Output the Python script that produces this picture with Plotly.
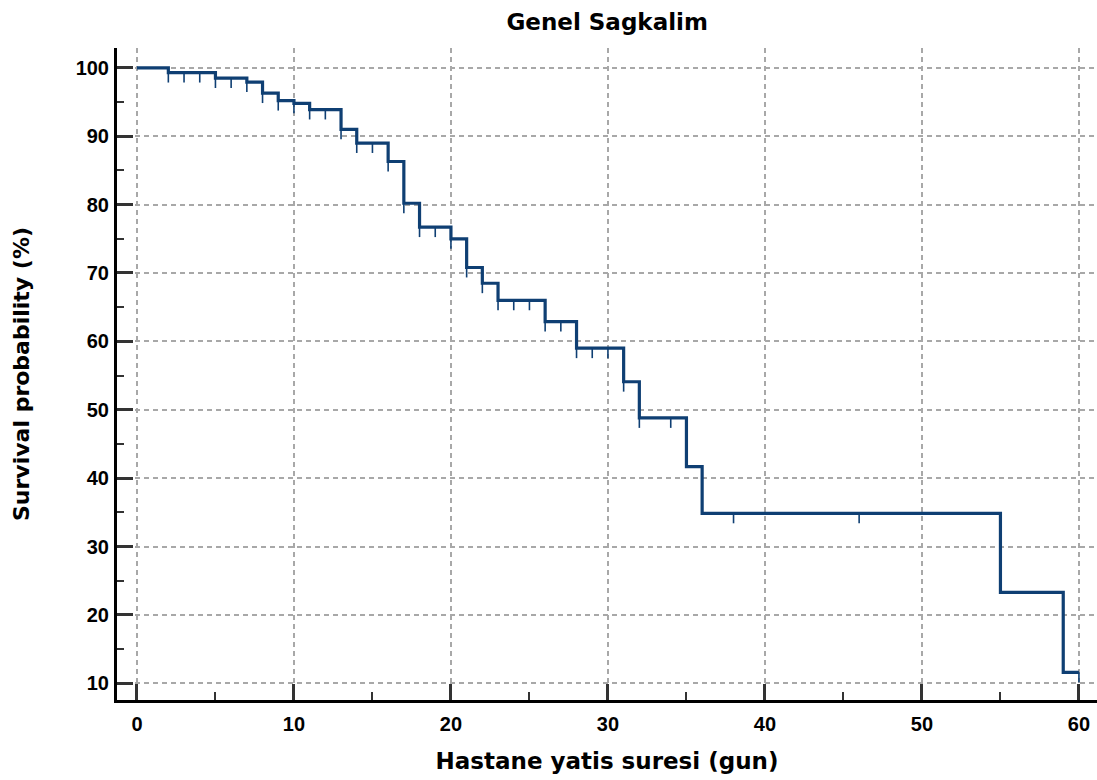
import plotly.graph_objects as go
import numpy as np

# Kaplan-Meier step data (time in days, survival %)
step_times = [0, 2, 5, 7, 8, 9, 10, 11, 13, 14, 16, 17, 18, 20, 21, 22, 23, 26, 28, 31, 32, 35, 36, 55, 59, 60]
step_surv = [100, 99.3, 98.5, 97.9, 96.3, 95.2, 94.8, 93.9, 91.0, 89.0, 86.3, 80.2, 76.7, 75.0, 70.8, 68.5,
             66.0, 62.9, 59.0, 54.1, 48.8, 41.7, 34.85, 23.3, 11.6, 11.6]

# censored observation times
censor_times = [2, 3, 4, 5, 6, 7, 8, 9, 10, 11, 12, 13, 14, 15, 16, 17, 18, 19, 20, 21, 22, 23, 24, 25,
                26, 27, 28, 29, 30, 31, 32, 34, 38, 46, 60]

x_ticks = [0, 10, 20, 30, 40, 50, 60]
y_ticks = [10, 20, 30, 40, 50, 60, 70, 80, 90, 100]

title_text = "Genel Sagkalim"
x_title = "Hastane yatis suresi (gun)"
y_title = "Survival probability (%)"

LINE = "#0f3f73"
FONT = "DejaVu Sans"
TICKFONT = "Liberation Sans"


def surv_at(t):
    idx = np.searchsorted(step_times, t, side="right") - 1
    return step_surv[max(idx, 0)]


cx, cy = [], []
for t in censor_times:
    s = surv_at(t)
    cx += [t, t, None]
    cy += [s, s - 1.45, None]

fig = go.Figure()
fig.add_trace(go.Scatter(x=step_times, y=step_surv, mode="lines", line=dict(color=LINE, width=3.2, shape="hv"),
                         hoverinfo="skip", showlegend=False))
fig.add_trace(go.Scatter(x=cx, y=cy, mode="lines", line=dict(color=LINE, width=1.6),
                         hoverinfo="skip", showlegend=False))

fig.update_layout(
    width=1097, height=780,
    margin=dict(l=117, r=0, t=48, b=80),
    paper_bgcolor="white", plot_bgcolor="white",
    title=dict(text=title_text, x=0.5535, xanchor="center", y=0.972, yanchor="middle",
               font=dict(family=FONT, size=23, color="black", weight="bold")),
    font=dict(family=FONT, color="black"),
)
fig.update_xaxes(
    range=[-1.27, 61.15], tickvals=x_ticks, ticktext=[str(v) for v in x_ticks],
    showline=True, linewidth=3, linecolor="black", mirror=False,
    ticks="inside", ticklen=16, tickwidth=2.5, tickcolor="#333333",
    showgrid=True, gridcolor="#a8a8a8", gridwidth=1.5, griddash="5px,4px",
    zeroline=False, ticklabelstandoff=4,
    tickfont=dict(family=TICKFONT, size=20, color="black", weight="bold"),
    title=dict(text=x_title, font=dict(family=FONT, size=23, color="black", weight="bold"), standoff=19),
    minor=dict(tickvals=[5, 15, 25, 35, 45, 55], ticks="inside", ticklen=8, tickwidth=2, tickcolor="#333333",
               showgrid=False),
)
fig.update_yaxes(
    range=[7.56, 102.9], tickvals=y_ticks, ticktext=[str(v) for v in y_ticks],
    showline=True, linewidth=3, linecolor="black", mirror=False,
    ticks="inside", ticklen=16, tickwidth=2.5, tickcolor="#333333",
    showgrid=True, gridcolor="#a8a8a8", gridwidth=1.5, griddash="5px,4px",
    zeroline=False, ticklabelstandoff=1,
    tickfont=dict(family=TICKFONT, size=20, color="black", weight="bold"),
    title=dict(text=y_title, font=dict(family=FONT, size=22, color="black", weight="bold"), standoff=40),
    minor=dict(tickvals=[15, 25, 35, 45, 55, 65, 75, 85, 95], ticks="inside", ticklen=7, tickwidth=2,
               tickcolor="#333333", showgrid=False),
)

fig.write_html("out.html")
